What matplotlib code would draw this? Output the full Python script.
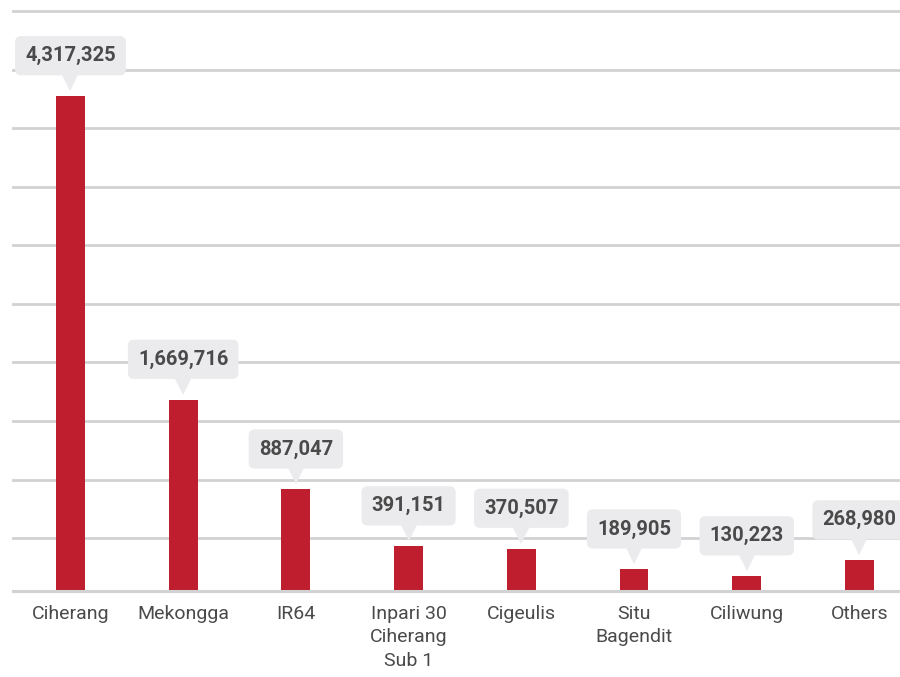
import matplotlib.pyplot as plt
import matplotlib.transforms as mtransforms

categories = ["Ciherang", "Mekongga", "IR64", "Inpari 30\nCiherang\nSub 1",
              "Cigeulis", "Situ\nBagendit", "Ciliwung", "Others"]
values = [4317325, 1669716, 887047, 391151, 370507, 189905, 130223, 268980]

bar_color = "#be1e2d"
grid_color = "#d2d2d4"
text_color = "#4a4a4a"
box_color = "#ebebed"

plt.rcParams['font.family'] = ['Roboto', 'DejaVu Sans']

fig = plt.figure(figsize=(9, 6.77), dpi=100)
ax = fig.add_axes([13 / 900, 86 / 677, 887 / 900, 580 / 677])

x = list(range(len(categories)))
ax.bar(x, values, width=0.257, color=bar_color, zorder=3)

ymax = values[0] * 580 / 495
ax.set_ylim(0, ymax)
ax.set_xlim(-0.51, 7.36)

# horizontal guide lines, top one at the axes edge
for k in range(10):
    ax.axhline(ymax * (1 - k * 0.101), color=grid_color, lw=2, zorder=1, clip_on=False)
ax.axhline(0, color=grid_color, lw=2.2, zorder=4, clip_on=False)

for s in ax.spines.values():
    s.set_visible(False)
ax.set_yticks([])
ax.set_xticks(x)
ax.set_xticklabels(categories, fontsize=14, color=text_color, linespacing=1.4)
ax.tick_params(axis='x', length=0, pad=10)

# value callouts: rounded box with a small pointer down to the bar
tri = mtransforms.offset_copy(ax.transData, fig=fig, y=10, units='points')
for xi, v in zip(x, values):
    ax.plot(xi, v, marker='v', ms=13, color=box_color, transform=tri,
            zorder=5, clip_on=False, markeredgewidth=0)
    ax.annotate(f"{v:,}", (xi, v), xytext=(0, 29), textcoords='offset points',
                ha='center', va='center', fontsize=14.5, fontweight='bold',
                color=text_color, zorder=6, annotation_clip=False,
                bbox=dict(boxstyle='round,pad=0.5,rounding_size=0.3',
                          fc=box_color, ec='none'))

fig.savefig("out.png", dpi=100)
